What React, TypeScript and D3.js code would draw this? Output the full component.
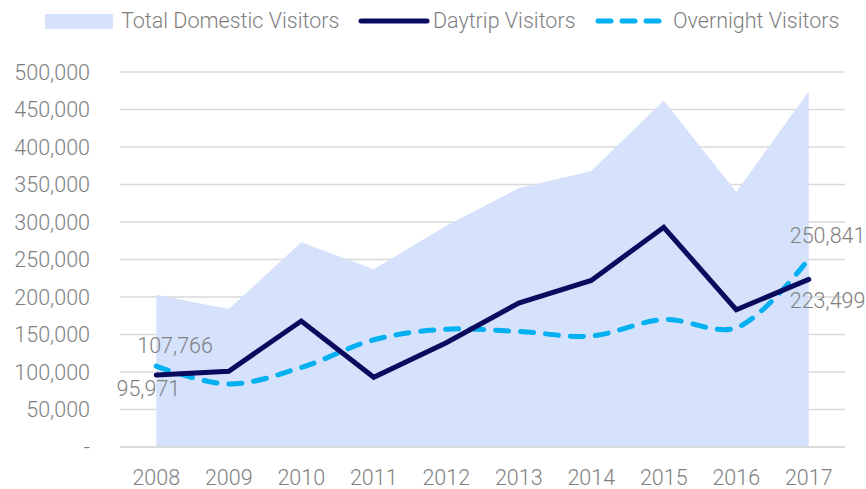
import { useRef, useEffect } from "react"
import * as d3 from "d3"

const years = ["2008", "2009", "2010", "2011", "2012", "2013", "2014", "2015", "2016", "2017"]
const totalVisitors = [203000, 184000, 273000, 237000, 295000, 345000, 368000, 462000, 340000, 474340]
const daytripVisitors = [95971, 101000, 168000, 93000, 139000, 192000, 222000, 293000, 183000, 223499]
const overnightVisitors = [107766, 84000, 106000, 143000, 157000, 154000, 148000, 170000, 159000, 250841]
const yTicks = [0, 50000, 100000, 150000, 200000, 250000, 300000, 350000, 400000, 450000, 500000]

const AREA = "#d6e2fb"
const NAVY = "#0a0a5e"
const CYAN = "#00b0f0"
const TEXT = "#7f7f7f"
const FONT = "Roboto, sans-serif"
const FS = 21.5

const App = () => {
  const svgRef = useRef<SVGSVGElement>(null)

  useEffect(() => {
    const svg = d3.select(svgRef.current)
    svg.selectAll("*").remove()

    const x = d3.scaleBand().domain(years).range([120, 845])
    const cx = (d: string) => (x(d) as number) + x.bandwidth() / 2
    const y = d3.scaleLinear().domain([0, 500000]).range([447, 72])

    const fmt = d3.format(",")

    // gridlines
    svg
      .append("g")
      .selectAll("line")
      .data(yTicks)
      .enter()
      .append("line")
      .attr("x1", 120)
      .attr("x2", 845)
      .attr("y1", (d) => y(d))
      .attr("y2", (d) => y(d))
      .attr("stroke", "#d9d9d9")
      .attr("stroke-width", 1.3)

    // y labels
    svg
      .append("g")
      .selectAll("text")
      .data(yTicks)
      .enter()
      .append("text")
      .attr("x", 90)
      .attr("y", (d) => y(d) + 7.5)
      .attr("text-anchor", "end")
      .attr("font-family", FONT)
      .attr("font-weight", 300)
      .attr("font-size", FS)
      .attr("fill", TEXT)
      .text((d) => (d === 0 ? "-" : fmt(d)))

    // x labels
    svg
      .append("g")
      .selectAll("text")
      .data(years)
      .enter()
      .append("text")
      .attr("x", (d) => cx(d))
      .attr("y", 485)
      .attr("text-anchor", "middle")
      .attr("font-family", FONT)
      .attr("font-weight", 300)
      .attr("font-size", FS)
      .attr("fill", TEXT)
      .text((d) => d)

    const area = d3
      .area<number>()
      .x((_, i) => cx(years[i]))
      .y0(y(0))
      .y1((d) => y(d))

    svg.append("path").datum(totalVisitors).attr("d", area).attr("fill", AREA)

    // redraw baseline over area
    svg
      .append("line")
      .attr("x1", 120)
      .attr("x2", 845)
      .attr("y1", y(0))
      .attr("y2", y(0))
      .attr("stroke", "#d9d9d9")
      .attr("stroke-width", 1.3)

    const line = d3
      .line<number>()
      .x((_, i) => cx(years[i]))
      .y((d) => y(d))

    const smooth = d3
      .line<number>()
      .x((_, i) => cx(years[i]))
      .y((d) => y(d))
      .curve(d3.curveCatmullRom.alpha(0.5))

    svg
      .append("path")
      .datum(overnightVisitors)
      .attr("d", smooth)
      .attr("fill", "none")
      .attr("stroke", CYAN)
      .attr("stroke-width", 5)
      .attr("stroke-linecap", "round")
      .attr("stroke-dasharray", "13 12")

    svg
      .append("path")
      .datum(daytripVisitors)
      .attr("d", line)
      .attr("fill", "none")
      .attr("stroke", NAVY)
      .attr("stroke-width", 5)
      .attr("stroke-linecap", "round")
      .attr("stroke-linejoin", "miter")

    // data labels
    const last = years.length - 1
    const labels = [
      { x: cx(years[0]) - 19, y: y(overnightVisitors[0]) - 13, v: overnightVisitors[0], anchor: "start" },
      { x: cx(years[0]) + 24, y: y(daytripVisitors[0]) + 21, v: daytripVisitors[0], anchor: "end" },
      { x: cx(years[last]) - 19, y: y(overnightVisitors[last]) - 16, v: overnightVisitors[last], anchor: "start" },
      { x: cx(years[last]) - 19, y: y(daytripVisitors[last]) + 29, v: daytripVisitors[last], anchor: "start" },
    ]
    svg
      .append("g")
      .selectAll("text")
      .data(labels)
      .enter()
      .append("text")
      .attr("x", (d) => d.x)
      .attr("y", (d) => d.y)
      .attr("text-anchor", (d) => d.anchor)
      .attr("font-family", FONT)
      .attr("font-weight", 300)
      .attr("font-size", FS)
      .attr("fill", TEXT)
      .text((d) => fmt(d.v))

    // legend
    const lg = svg.append("g").attr("font-family", FONT).attr("font-weight", 300).attr("font-size", FS).attr("fill", TEXT)
    lg.append("rect").attr("x", 45).attr("y", 14).attr("width", 68).attr("height", 15).attr("fill", AREA)
    lg.append("text").attr("x", 121).attr("y", 27.5).text("Total Domestic Visitors")
    lg.append("line")
      .attr("x1", 361).attr("x2", 427).attr("y1", 21).attr("y2", 21)
      .attr("stroke", NAVY).attr("stroke-width", 5).attr("stroke-linecap", "round")
    lg.append("text").attr("x", 433).attr("y", 27.5).text("Daytrip Visitors")
    lg.append("line")
      .attr("x1", 598).attr("x2", 659).attr("y1", 21).attr("y2", 21)
      .attr("stroke", CYAN).attr("stroke-width", 5).attr("stroke-linecap", "round")
      .attr("stroke-dasharray", "13 11")
    lg.append("text").attr("x", 673).attr("y", 27.5).text("Overnight Visitors")
  }, [])

  return <svg ref={svgRef} width={866} height={489} style={{ display: "block", position: "absolute", left: 0, top: 0 }}></svg>
}

export default App
